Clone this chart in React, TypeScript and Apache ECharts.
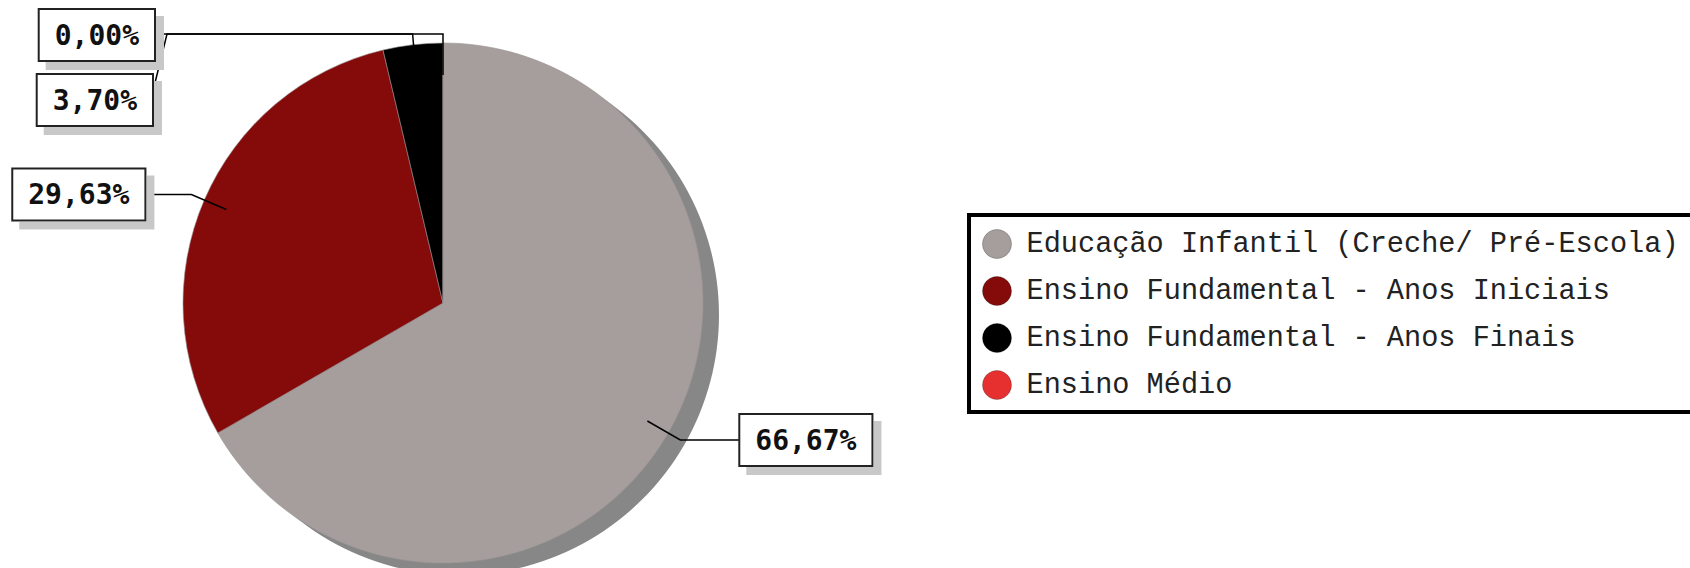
import React, { useEffect, useRef } from 'react';
import * as echarts from 'echarts';

// ---- data ----
const categories = [
  'Educação Infantil (Creche/ Pré-Escola)',
  'Ensino Fundamental - Anos Iniciais',
  'Ensino Fundamental - Anos Finais',
  'Ensino Médio',
];
const counts = [18, 8, 1, 0];
const colors = ['#a69e9d', '#850b0b', '#000000', '#e63030'];

// ---- layout ----
const CENTER = [443, 303];
const RADIUS = 260;
const LABEL_RADIUS = 236;
const SHADOW_OFFSET = [16, 12];
const LINE_TOP = 34;

function labelLayout(params: any) {
  const pts = params.labelLinePoints;
  if (!pts || pts.length < 2) return {};
  const p0 = pts[0];
  const p1 = pts[1];
  switch (params.dataIndex) {
    case 0: {
      const x = p1[0] + 60;
      return { x, y: p1[1], align: 'left', verticalAlign: 'middle', labelLinePoints: [p0, p1, [x, p1[1]]] };
    }
    case 1: {
      const x = p1[0] - 47;
      return { x, y: p1[1], align: 'right', verticalAlign: 'middle', labelLinePoints: [p0, p1, [x, p1[1]]] };
    }
    case 2: {
      return {
        x: 152, y: 100, align: 'right', verticalAlign: 'middle',
        labelLinePoints: [p0, [p0[0] - 3, LINE_TOP], [167, LINE_TOP], [152, 95]],
      };
    }
    case 3: {
      return {
        x: 154, y: 35, align: 'right', verticalAlign: 'middle',
        labelLinePoints: [[p0[0], p0[1] + 8], [p0[0], LINE_TOP], [154, LINE_TOP]],
      };
    }
  }
  return {};
}

export default function App() {
  const ref = useRef<HTMLDivElement>(null);
  useEffect(() => {
    document.body.style.margin = '0';
    if (!ref.current) return;
    const chart = echarts.init(ref.current, undefined, { renderer: 'svg' });
    const data = categories.map((name, i) => ({ name, value: counts[i], itemStyle: { color: colors[i] } }));
    chart.setOption({
      animation: false,
      backgroundColor: '#ffffff',
      legend: {
        orient: 'vertical',
        left: 969,
        top: 215,
        data: categories,
        icon: 'circle',
        itemWidth: 29,
        itemHeight: 29,
        itemGap: 17,
        padding: [14, 40, 12, 13],
        borderColor: '#000',
        borderWidth: 4,
        backgroundColor: '#fff',
        selectedMode: false,
        itemStyle: { borderColor: 'rgba(0,0,0,0.25)', borderWidth: 1 },
        textStyle: {
          fontFamily: 'Liberation Mono',
          fontSize: 28.6,
          color: '#222',
          padding: [0, 0, 0, 10],
        },
      },
      series: [
        {
          type: 'pie',
          name: 'sombra',
          silent: true,
          z: 1,
          center: [CENTER[0] + SHADOW_OFFSET[0], CENTER[1] + SHADOW_OFFSET[1]],
          radius: RADIUS,
          label: { show: false },
          labelLine: { show: false },
          data: [{ name: 'sombra', value: counts.reduce((a, b) => a + b, 0), itemStyle: { color: '#878787' } }],
        },
        {
          type: 'pie',
          name: 'pizza',
          z: 2,
          silent: true,
          center: CENTER,
          radius: RADIUS,
          startAngle: 90,
          clockwise: true,
          avoidLabelOverlap: false,
          label: { show: false },
          labelLine: { show: false },
          itemStyle: { borderColor: '#9a9494', borderWidth: 0.6 },
          data,
        },
        {
          type: 'pie',
          name: 'rotulos',
          z: 3,
          silent: true,
          center: CENTER,
          radius: LABEL_RADIUS,
          startAngle: 90,
          clockwise: true,
          avoidLabelOverlap: false,
          itemStyle: { color: 'rgba(0,0,0,0)', borderWidth: 0 },
          label: {
            show: true,
            position: 'outside',
            distanceToLabelLine: 0,
            formatter: (p: any) => p.percent.toFixed(2).replace('.', ',') + '%',
            fontFamily: 'DejaVu Sans Mono',
            fontWeight: 'bold',
            fontSize: 28,
            lineHeight: 30,
            color: '#111',
            backgroundColor: '#fff',
            borderColor: '#222',
            borderWidth: 2,
            padding: [10, 15],
            shadowColor: '#c8c8c8',
            shadowBlur: 0,
            shadowOffsetX: 8,
            shadowOffsetY: 8,
          },
          labelLine: {
            show: true,
            length: 38,
            length2: 50,
            smooth: false,
            lineStyle: { color: '#000', width: 1.5 },
          },
          labelLayout,
          data: categories.map((name, i) => ({ name, value: counts[i] })),
        },
      ],
    });
    return () => chart.dispose();
  }, []);
  return <div ref={ref} style={{ width: 1690, height: 568 }} />;
}
